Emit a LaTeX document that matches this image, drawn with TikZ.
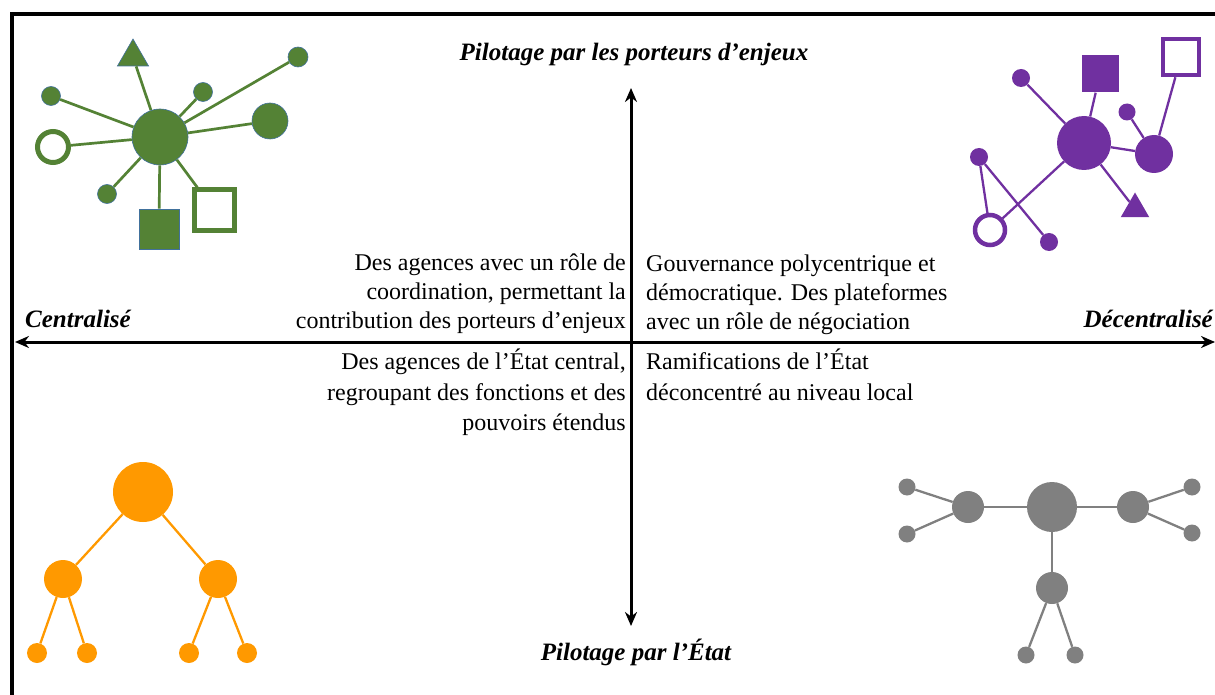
\documentclass[tikz,border=0pt]{standalone}
\usepackage{fontspec}
\setmainfont{Liberation Serif}
\usetikzlibrary{shapes.geometric,arrows.meta}
\definecolor{gr}{RGB}{84,130,53}
\definecolor{grline}{RGB}{65,113,156}
\definecolor{pu}{RGB}{112,48,160}
\definecolor{orn}{RGB}{255,153,0}
\definecolor{gy}{RGB}{128,128,128}
\tikzset{
  dot/.style={circle,inner sep=0pt,minimum size=#1},
  gfill/.style={fill=gr,draw=grline,line width=0.6pt},
  gopen/.style={fill=white,draw=gr,line width=5pt},
  pfill/.style={fill=pu},
  popen/.style={fill=white,draw=pu,line width=4.5pt},
  ofill/.style={fill=orn},
  yfill/.style={fill=gy},
  sq/.style={rectangle,inner sep=0pt,minimum size=#1},
  tri/.style={regular polygon,regular polygon sides=3,inner sep=0pt,minimum size=#1},
  gedge/.style={draw=gr,line width=2.7pt},
  pedge/.style={draw=pu,line width=2.3pt},
  oedge/.style={draw=orn,line width=2.3pt},
  yedge/.style={draw=gy,line width=2.3pt},
  axis/.style={line width=3pt,-{Stealth[length=14pt,width=12pt]}},
  lab/.style={font=\fontsize{25}{29}\selectfont\bfseries\itshape,inner sep=0pt},
  qtext/.style={font=\fontsize{24}{29}\selectfont,inner sep=0pt},
  qtextlow/.style={font=\fontsize{24}{30.5}\selectfont,inner sep=0pt}
}
\begin{document}
\begin{tikzpicture}[x=1pt,y=-1pt]
\useasboundingbox (0,0) rectangle (1215,695);
\begin{scope}
\clip (0,0) rectangle (1215,695);
\draw[line width=3.5pt] (12,14) rectangle (1240,720);
\end{scope}
% axes
\coordinate (L) at (15,342);
\coordinate (R) at (1215,342);
\coordinate (T) at (631,88);
\coordinate (B) at (631,626);
\coordinate (C) at (631,342);
\draw[axis] (C) -- (L);
\draw[axis] (C) -- (R);
\draw[axis] (C) -- (T);
\draw[axis] (C) -- (B);
% labels
\node[lab,anchor=base] (lt) at (634,61) {Pilotage par les porteurs d’enjeux};
\node[lab,anchor=base] (lb) at (636,660) {Pilotage par l’État};
\node[lab,anchor=base] (ll) at (78,327) {Centralisé};
\node[lab,anchor=base east] (lr) at (1213,327) {Décentralisé};
% quadrant texts
\node[qtext,anchor=north east,align=right] (q1) at (626,253.5) {Des agences avec un rôle de\\coordination, permettant la\\contribution des porteurs d’enjeux};
\node[qtext,anchor=north west,align=left] (q2) at (646,255) {Gouvernance polycentrique et\\démocratique. Des plateformes\\avec un rôle de négociation};
\node[qtextlow,anchor=north east,align=right] (q3) at (626,349) {Des agences de l’État central,\\regroupant des fonctions et des\\pouvoirs étendus};
\node[qtextlow,anchor=north west,align=left] (q4) at (646,349) {Ramifications de l’État\\déconcentré au niveau local};
% green cluster
\node[dot=56pt,gfill] (g0) at (160,137) {};
\node[tri=36pt,gfill] (g1) at (133,57) {};
\node[dot=19pt,gfill] (g2) at (51,96) {};
\node[dot=19pt,gfill] (g3) at (203,92) {};
\node[dot=20pt,gfill] (g4) at (298,57) {};
\node[dot=36pt,gfill] (g5) at (270,121) {};
\node[dot=31pt,gopen] (g6) at (53,147) {};
\node[dot=19pt,gfill] (g7) at (107,194) {};
\node[sq=40pt,gfill] (g8) at (159,229) {};
\node[sq=40pt,gopen] (g9) at (214,210) {};
\foreach \n in {g1,g2,g3,g4,g5,g6,g7,g8,g9} \path[gedge] (g0) -- (\n);
% purple cluster
\node[dot=54pt,pfill] (p0) at (1084,143) {};
\node[sq=37pt,pfill] (p1) at (1100,74) {};
\node[sq=36pt,popen] (p2) at (1181,57) {};
\node[dot=18pt,pfill] (p3) at (1021,78) {};
\node[dot=17pt,pfill] (p4) at (1127,112) {};
\node[dot=38pt,pfill] (p5) at (1154,154) {};
\node[tri=33pt,pfill] (p6) at (1135,209) {};
\node[dot=18pt,pfill] (p7) at (979,157) {};
\node[dot=30pt,popen] (p8) at (990,230) {};
\node[dot=18pt,pfill] (p9) at (1049,242) {};
\path[pedge] (p0) -- (p3);
\path[pedge] (p0) -- (p1);
\path[pedge] (p0) -- (p5);
\path[pedge] (p4) -- (p5);
\path[pedge] (p5) -- (p2);
\path[pedge] (p0) -- (p6);
\path[pedge] (p0) -- (p8);
\path[pedge] (p7) -- (p8);
\path[pedge] (p7) -- (p9);
% orange tree
\node[dot=60pt,ofill] (o0) at (143,492) {};
\node[dot=38pt,ofill] (o1) at (63,579) {};
\node[dot=38pt,ofill] (o2) at (218,579) {};
\node[dot=20pt,ofill] (o3) at (37,653) {};
\node[dot=20pt,ofill] (o4) at (87,653) {};
\node[dot=20pt,ofill] (o5) at (189,653) {};
\node[dot=20pt,ofill] (o6) at (247,653) {};
\path[oedge] (o0) -- (o1);
\path[oedge] (o0) -- (o2);
\path[oedge] (o1) -- (o3);
\path[oedge] (o1) -- (o4);
\path[oedge] (o2) -- (o5);
\path[oedge] (o2) -- (o6);
% grey tree
\node[dot=50pt,yfill] (y0) at (1052,507) {};
\node[dot=32pt,yfill] (y1) at (968,507) {};
\node[dot=32pt,yfill] (y2) at (1133,507) {};
\node[dot=32pt,yfill] (y3) at (1052,588) {};
\node[dot=17pt,yfill] (y4) at (907,487) {};
\node[dot=17pt,yfill] (y5) at (907,534) {};
\node[dot=17pt,yfill] (y6) at (1192,487) {};
\node[dot=17pt,yfill] (y7) at (1192,533) {};
\node[dot=17pt,yfill] (y8) at (1026,655) {};
\node[dot=17pt,yfill] (y9) at (1075,655) {};
\path[yedge] (y0) -- (y1);
\path[yedge] (y0) -- (y2);
\path[yedge] (y0) -- (y3);
\path[yedge] (y1) -- (y4);
\path[yedge] (y1) -- (y5);
\path[yedge] (y2) -- (y6);
\path[yedge] (y2) -- (y7);
\path[yedge] (y3) -- (y8);
\path[yedge] (y3) -- (y9);
\end{tikzpicture}
\end{document}
